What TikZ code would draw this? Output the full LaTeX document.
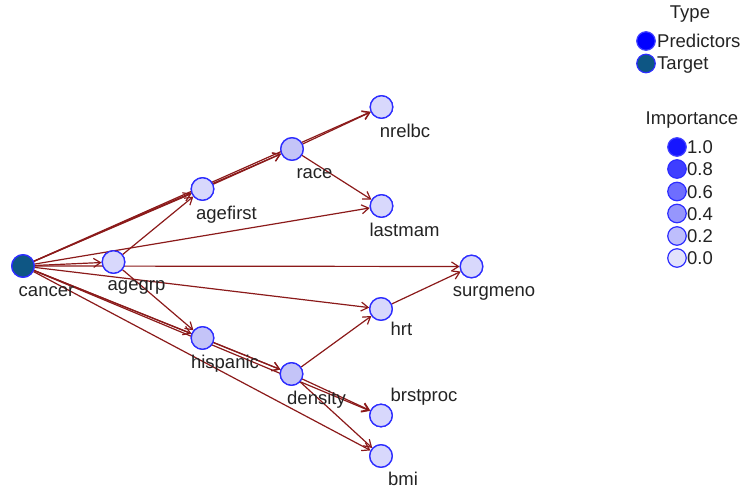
\documentclass[tikz,border=0pt]{standalone}
\usepackage{fontspec}
\setmainfont{Liberation Sans}
\usetikzlibrary{arrows.meta}
\definecolor{edgecol}{RGB}{139,26,26}
\definecolor{nodeborder}{RGB}{45,45,255}
\definecolor{txt}{RGB}{35,35,35}
\definecolor{lightfill}{RGB}{216,216,252}
\definecolor{midfill}{RGB}{196,196,248}
\definecolor{targetfill}{RGB}{14,86,132}
\definecolor{imp10}{RGB}{22,22,255}
\definecolor{imp08}{RGB}{62,62,255}
\definecolor{imp06}{RGB}{110,110,255}
\definecolor{imp04}{RGB}{150,150,252}
\definecolor{imp02}{RGB}{190,190,252}
\definecolor{imp00}{RGB}{226,226,252}
\tikzset{
  varnode/.style={circle, draw=nodeborder, line width=1.3pt, minimum size=22.5pt, inner sep=0pt, fill=lightfill},
  legnode/.style={circle, draw=nodeborder, line width=1.2pt, minimum size=18.5pt, inner sep=0pt},
  lab/.style={text=txt, font=\fontsize{18.5}{21}\selectfont, anchor=base, inner sep=0pt},
  leglab/.style={text=txt, font=\fontsize{18.5}{21}\selectfont, anchor=base west, inner sep=0pt},
  conn/.style={draw=edgecol, line width=1.2pt, -{Straight Barb[length=7pt,width=9pt,line width=1.2pt]}}
}
\begin{document}
\begin{tikzpicture}[x=1pt,y=-1pt]
\useasboundingbox (0,0) rectangle (744,495);
% nodes
\node[varnode, fill=targetfill] (cancer) at (23,266) {};
\node[varnode] (agegrp) at (113.5,262) {};
\node[varnode] (agefirst) at (202.5,189) {};
\node[varnode, fill=midfill] (race) at (292,149) {};
\node[varnode] (nrelbc) at (381.5,107) {};
\node[varnode] (lastmam) at (381.5,206) {};
\node[varnode] (surgmeno) at (471.5,266.5) {};
\node[varnode] (hrt) at (381,309) {};
\node[varnode, fill=midfill] (hispanic) at (202.5,338) {};
\node[varnode, fill=midfill] (density) at (291.5,374) {};
\node[varnode] (brstproc) at (381,415.5) {};
\node[varnode] (bmi) at (381,456) {};
% edges
\foreach \t in {agegrp,agefirst,race,nrelbc,lastmam,surgmeno,hrt,hispanic,density,brstproc,bmi}
  \draw[conn] (cancer) -- (\t);
\draw[conn] (agegrp) -- (agefirst);
\draw[conn] (agegrp) -- (hispanic);
\draw[conn] (agefirst) -- (race);
\draw[conn] (race) -- (nrelbc);
\draw[conn] (race) -- (lastmam);
\draw[conn] (hispanic) -- (density);
\draw[conn] (density) -- (hrt);
\draw[conn] (density) -- (brstproc);
\draw[conn] (density) -- (bmi);
\draw[conn] (hrt) -- (surgmeno);
% redraw nodes on top of the connectors
\node[varnode, fill=targetfill] at (cancer) {};
\foreach \n in {agegrp,agefirst,nrelbc,lastmam,surgmeno,hrt,brstproc,bmi}
  \node[varnode] at (\n) {};
\foreach \n in {race,hispanic,density}
  \node[varnode, fill=midfill] at (\n) {};
% labels
\node[lab] (l-cancer) at (46.5,296.5) {cancer};
\node[lab] (l-agegrp) at (136.5,290.5) {agegrp};
\node[lab] (l-agefirst) at (226.5,219.5) {agefirst};
\node[lab] (l-race) at (314.5,178.5) {race};
\node[lab] (l-nrelbc) at (405,137.5) {nrelbc};
\node[lab] (l-lastmam) at (404.5,236.5) {lastmam};
\node[lab] (l-surgmeno) at (494,296.5) {surgmeno};
\node[lab] (l-hrt) at (401.5,335) {hrt};
\node[lab] (l-hispanic) at (225,368) {hispanic};
\node[lab] (l-density) at (316.5,404.5) {density};
\node[lab] (l-brstproc) at (424,401) {brstproc};
\node[lab] (l-bmi) at (403,485.5) {bmi};
% legend
\node[lab] (l-type) at (690,18.5) {Type};
\node[legnode, fill=blue, draw=imp08] (lg-pred) at (646,41) {};
\node[leglab] (l-pred) at (657,47.5) {Predictors};
\node[legnode, fill=targetfill] (lg-targ) at (646,63.5) {};
\node[leglab] (l-targ) at (657,70) {Target};
\node[lab] (l-imp) at (692,124.5) {Importance};
\node[legnode, fill=imp10, draw=imp08] (i10) at (677,147) {};
\node[leglab] (li10) at (687,153.5) {1.0};
\node[legnode, fill=imp08] (i08) at (677,169) {};
\node[leglab] (li08) at (687,175.5) {0.8};
\node[legnode, fill=imp06] (i06) at (677,191.5) {};
\node[leglab] (li06) at (687,198) {0.6};
\node[legnode, fill=imp04] (i04) at (677,213.5) {};
\node[leglab] (li04) at (687,220) {0.4};
\node[legnode, fill=imp02] (i02) at (677,236) {};
\node[leglab] (li02) at (687,242.5) {0.2};
\node[legnode, fill=imp00] (i00) at (677,258) {};
\node[leglab] (li00) at (687,264.5) {0.0};
\end{tikzpicture}
\end{document}
